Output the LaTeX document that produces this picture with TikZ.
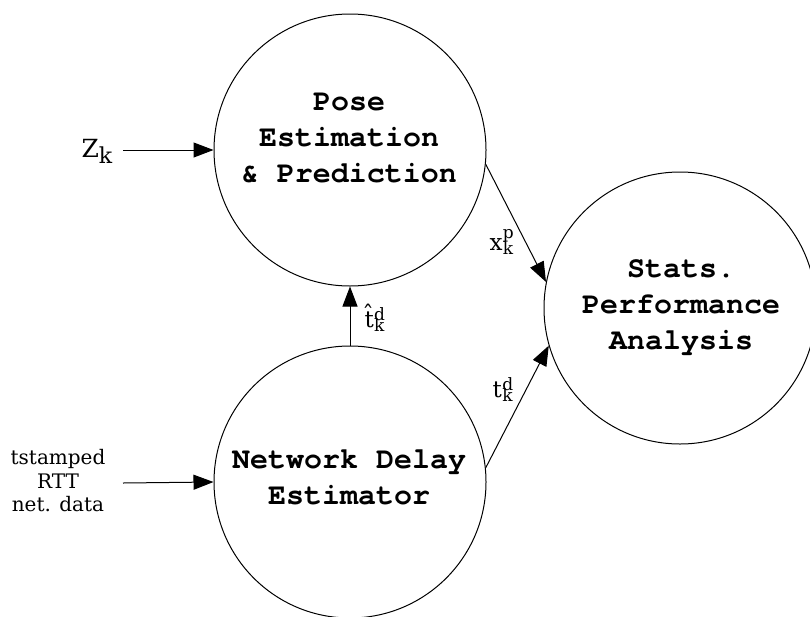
\documentclass[tikz,border=0pt]{standalone}
\usepackage{fontspec}
\setmainfont{DejaVu Serif}
\newfontfamily\boxfont{texgyrecursor-bold.otf}
\usetikzlibrary{arrows.meta}

% symbol with a superscript stacked over a subscript
\newcommand\supsub[4]{#1\kern0.5pt\raisebox{#4}{\fontsize{17}{17}\selectfont\rlap{#2}}%
  \raisebox{-4.5pt}{\fontsize{17}{17}\selectfont #3}}

\begin{document}
\begin{tikzpicture}[x=1pt, y=-1pt, line width=1pt,
  arr/.style={-{Triangle[length=20pt,width=15pt]}},
  bubble/.style={circle, draw, minimum size=272pt, inner sep=0pt},
  title/.style={font=\boxfont\fontsize{30}{36}\selectfont, align=center, inner sep=0pt},
  lab/.style={font=\fontsize{23}{28}\selectfont, inner sep=0pt},
  inlab/.style={font=\fontsize{20}{23.5}\selectfont, align=center, inner sep=0pt}]

  \fill[white] (0,0) rectangle (810,616);
  \useasboundingbox (0,0) rectangle (810,616);

  % processes
  \node[bubble] (pose)  at (350,150) {};
  \node[bubble] (delay) at (350,482) {};
  \node[bubble] (stats) at (680,308) {};

  \node[title] (poseText)  at (349,137.5) {Pose\\Estimation\\\& Prediction};
  \node[title] (delayText) at (349,477.5) {Network Delay\\Estimator};
  \node[title] (statsText) at (681,308)   {Stats.\\Performance\\Analysis};

  % external inputs
  \node[anchor=base west, inner sep=0pt, font=\fontsize{25}{30}\selectfont]
    (zk) at (81,157) {Z\raisebox{-6pt}{\fontsize{22}{24}\selectfont k}};
  \node[inlab] (net) at (58,481) {tstamped\\RTT\\net. data};
  \coordinate (zkout)  at (123,150);
  \coordinate (netout) at (123,483);

  \draw[arr] (zkout) -- (pose.west);
  \draw[arr] (netout) -- (delay.west);

  % flows between processes
  \draw[arr] (delay.north) -- (pose.south);
  \draw[arr] (pose.-6) -- (stats.169);
  \draw[arr] (delay.6) -- (stats.-164);

  % flow labels
  \node[lab, anchor=base west] (xp)  at (489,250) {\supsub{x}{p}{k}{12pt}};
  \node[lab, anchor=base west] (td)  at (492,397) {\supsub{t}{d}{k}{7pt}};
  \node[lab, anchor=base west] (thd) at (364,327) {\supsub{\^t}{d}{k}{7pt}};
\end{tikzpicture}
\end{document}
